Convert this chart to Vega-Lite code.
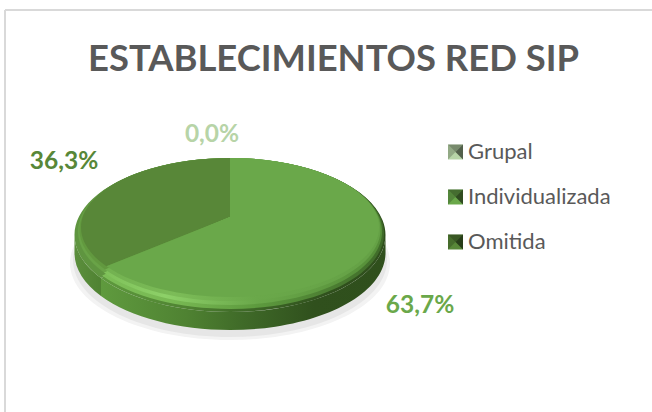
{"$schema":"https://vega.github.io/schema/vega-lite/v6.json","width":652,"height":412,"padding":0,"autosize":"none","background":"white","config":{"view":{"stroke":null},"locale":{"number":{"decimal":",","thousands":".","grouping":[3],"currency":["","€"]}}},"title":{"text":"ESTABLECIMIENTOS RED SIP","anchor":"start","frame":"group","dx":88,"dy":107,"offset":0,"baseline":"alphabetic","font":"Lato","fontSize":36.4,"fontWeight":"bold","color":"#595959"},"data":{"values":[{"categoria":"Grupal","porcentaje":0},{"categoria":"Individualizada","porcentaje":0.637},{"categoria":"Omitida","porcentaje":0.363}]},"encoding":{"x":{"field":"porcentaje","type":"quantitative","axis":null,"scale":{"domain":[0,0.637],"range":[230,230],"nice":false}},"y":{"field":"porcentaje","type":"quantitative","axis":null,"scale":{"domain":[0,0.637],"range":[235,235],"nice":false}}},"layer":[{"mark":{"type":"rule","color":"#d9d9d9","strokeWidth":2},"encoding":{"x":{"datum":5,"type":"quantitative","axis":null,"scale":{"domain":[0,652],"range":[0,652],"nice":false}},"y":{"datum":10,"type":"quantitative","axis":null,"scale":{"domain":[0,412],"range":[0,412],"nice":false}},"y2":{"datum":412}}},{"mark":{"type":"rule","color":"#d9d9d9","strokeWidth":2},"encoding":{"x":{"datum":5,"type":"quantitative","axis":null,"scale":{"domain":[0,652],"range":[0,652],"nice":false}},"x2":{"datum":652},"y":{"datum":10,"type":"quantitative","axis":null,"scale":{"domain":[0,412],"range":[0,412],"nice":false}}}},{"transform":[{"filter":"datum.categoria==='Omitida'"}],"mark":{"type":"point","filled":true,"opacity":1,"color":"#f3f3f3","size":4,"shape":"M-160 28 A160 77 0 1 0 160 28 A160 77 0 1 0 -160 28 Z"}},{"transform":[{"filter":"datum.categoria==='Omitida'"}],"mark":{"type":"point","filled":true,"opacity":1,"color":"#e6e6e6","size":4,"shape":"M-157 25 A157 77 0 1 0 157 25 A157 77 0 1 0 -157 25 Z"}},{"transform":[{"filter":"datum.categoria==='Omitida'"}],"mark":{"type":"point","filled":true,"opacity":1,"size":4,"shape":"M-155.5 0 L-155.5 18 A155.5 77 0 0 0 -129 61 L-129 43 A155.5 77 0 0 1 -155.5 0 Z","fill":{"gradient":"linear","x1":0,"y1":0,"x2":1,"y2":0,"stops":[{"offset":0,"color":"#5c8f3d"},{"offset":1,"color":"#4f8232"}]}}},{"transform":[{"filter":"datum.categoria==='Individualizada'"}],"mark":{"type":"point","filled":true,"opacity":1,"size":4,"shape":"M-129 43 L-129 61 A155.5 77 0 0 0 155.5 18 L155.5 0 A155.5 77 0 0 1 -129 43 Z","fill":{"gradient":"linear","x1":0,"y1":0,"x2":1,"y2":0,"stops":[{"offset":0,"color":"#5f9a3e"},{"offset":0.3,"color":"#4f8232"},{"offset":0.5,"color":"#3f6a28"},{"offset":0.75,"color":"#30501d"},{"offset":1,"color":"#2f4f1c"}]}}},{"transform":[{"filter":"datum.categoria==='Omitida'"}],"mark":{"type":"point","filled":true,"opacity":1,"size":4,"color":"#5f9540","shape":"M0 -18 L0 -77 A155.5 77 0 0 0 -129 43 Z"}},{"transform":[{"filter":"datum.categoria==='Omitida'"}],"mark":{"type":"point","filled":true,"opacity":1,"size":4,"color":"#69a347","shape":"M0 -18 L0 -77 A152 73.5 0 0 0 -126.1 37.5 Z"}},{"transform":[{"filter":"datum.categoria==='Omitida'"}],"mark":{"type":"point","filled":true,"opacity":1,"size":4,"color":"#62993f","shape":"M0 -18 L0 -77 A150.5 71.5 0 0 0 -124.9 34.4 Z"}},{"transform":[{"filter":"datum.categoria==='Omitida'"}],"mark":{"type":"point","filled":true,"opacity":1,"size":4,"color":"#588738","shape":"M0 -18 L0 -77 A149 69.5 0 0 0 -123.6 31.3 Z"}},{"transform":[{"filter":"datum.categoria==='Individualizada'"}],"mark":{"type":"point","filled":true,"opacity":1,"size":4,"shape":"M0 -18 L0 -77 A155.5 77 0 1 1 -129 43 Z","fill":{"gradient":"linear","x1":0,"y1":0,"x2":1,"y2":0,"stops":[{"offset":0,"color":"#5f9a3e"},{"offset":0.3,"color":"#4f8232"},{"offset":0.5,"color":"#3f6a28"},{"offset":0.8,"color":"#30501d"},{"offset":1,"color":"#2f4f1c"}]}}},{"transform":[{"filter":"datum.categoria==='Individualizada'"}],"mark":{"type":"point","filled":true,"opacity":1,"size":4,"shape":"M0 -18 L0 -77 A154 75.5 0 1 1 -127.8 40.6 Z","fill":{"gradient":"linear","x1":0,"y1":0,"x2":1,"y2":0,"stops":[{"offset":0,"color":"#7cbe57"},{"offset":0.25,"color":"#78b953"},{"offset":0.55,"color":"#5d9a3e"},{"offset":1,"color":"#3f6a29"}]}}},{"transform":[{"filter":"datum.categoria==='Individualizada'"}],"mark":{"type":"point","filled":true,"opacity":1,"size":4,"shape":"M0 -18 L0 -77 A152 73.5 0 1 1 -126.1 37.5 Z","fill":{"gradient":"linear","x1":0,"y1":0,"x2":1,"y2":0,"stops":[{"offset":0,"color":"#7fc15a"},{"offset":0.22,"color":"#8dd068"},{"offset":0.55,"color":"#6aa84a"},{"offset":1,"color":"#558e38"}]}}},{"transform":[{"filter":"datum.categoria==='Individualizada'"}],"mark":{"type":"point","filled":true,"opacity":1,"size":4,"shape":"M0 -18 L0 -77 A150.5 71.5 0 1 1 -124.9 34.4 Z","fill":{"gradient":"linear","x1":0,"y1":0,"x2":1,"y2":0,"stops":[{"offset":0,"color":"#72b150"},{"offset":0.25,"color":"#7cbc58"},{"offset":0.55,"color":"#6aa84a"},{"offset":1,"color":"#65a146"}]}}},{"transform":[{"filter":"datum.categoria==='Individualizada'"}],"mark":{"type":"point","filled":true,"opacity":1,"size":4,"color":"#6aa84a","shape":"M0 -18 L0 -77 A149 69.5 0 1 1 -123.6 31.3 Z"}},{"mark":{"type":"text","font":"Lato","fontSize":24.5,"fontWeight":"bold","align":"center","baseline":"middle"},"encoding":{"x":{"field":"porcentaje","type":"quantitative","axis":null,"scale":{"domain":[0,0.363,0.637],"range":[212,64,420],"nice":false}},"y":{"field":"porcentaje","type":"quantitative","axis":null,"scale":{"domain":[0,0.363,0.637],"range":[135,162,306],"nice":false}},"text":{"field":"porcentaje","type":"quantitative","format":".1%"},"color":{"field":"categoria","type":"nominal","scale":{"domain":["Grupal","Individualizada","Omitida"],"range":["#b7d4a7","#6aa84a","#588738"]},"legend":{"title":null,"orient":"none","legendX":444,"legendY":141,"padding":0,"symbolType":"square","symbolSize":225,"symbolStrokeWidth":0,"labelFont":"Lato","labelFontSize":22,"labelColor":"#595959","labelOffset":2,"rowPadding":23,"labelLimit":200,"encode":{"symbols":{"update":{"opacity":{"value":0}}}}}}}},{"mark":{"type":"square","opacity":1,"size":225},"encoding":{"x":{"field":"porcentaje","type":"quantitative","axis":null,"scale":{"domain":[0,0.637],"range":[455.5,455.5],"nice":false}},"y":{"field":"porcentaje","type":"quantitative","axis":null,"scale":{"domain":[0,0.363,0.637],"range":[152,242,197],"nice":false}},"color":{"field":"categoria","type":"nominal"}}},{"mark":{"type":"point","filled":true,"opacity":0.35,"color":"black","size":4,"shape":"M-7.5 -7.5 L7.5 -7.5 L0 0 Z"},"encoding":{"x":{"field":"porcentaje","type":"quantitative","axis":null,"scale":{"domain":[0,0.637],"range":[455.5,455.5],"nice":false}},"y":{"field":"porcentaje","type":"quantitative","axis":null,"scale":{"domain":[0,0.363,0.637],"range":[152,242,197],"nice":false}}}},{"mark":{"type":"point","filled":true,"opacity":0.55,"color":"black","size":4,"shape":"M7.5 -7.5 L7.5 7.5 L0 0 Z"},"encoding":{"x":{"field":"porcentaje","type":"quantitative","axis":null,"scale":{"domain":[0,0.637],"range":[455.5,455.5],"nice":false}},"y":{"field":"porcentaje","type":"quantitative","axis":null,"scale":{"domain":[0,0.363,0.637],"range":[152,242,197],"nice":false}}}},{"mark":{"type":"point","filled":true,"opacity":0.2,"color":"black","size":4,"shape":"M-7.5 -7.5 L-7.5 7.5 L0 0 Z"},"encoding":{"x":{"field":"porcentaje","type":"quantitative","axis":null,"scale":{"domain":[0,0.637],"range":[455.5,455.5],"nice":false}},"y":{"field":"porcentaje","type":"quantitative","axis":null,"scale":{"domain":[0,0.363,0.637],"range":[152,242,197],"nice":false}}}}],"resolve":{"scale":{"x":"independent","y":"independent"}}}
